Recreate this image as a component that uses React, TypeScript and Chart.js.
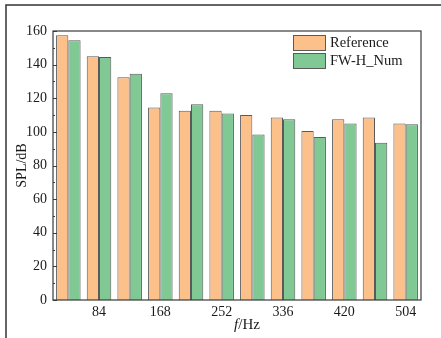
import { useEffect, useRef } from 'react';
import { Chart, registerables } from 'chart.js';

Chart.register(...registerables);

// Frequency bins (Hz) and sound pressure levels (dB)
const frequencies = ['42', '84', '126', '168', '210', '252', '294', '336', '378', '420', '462', '504'];
const referenceSPL = [157.5, 145, 132.5, 114.5, 112.5, 112.5, 110, 108.5, 100.5, 107.5, 108.5, 105];
const fwhNumSPL = [154.5, 144.5, 134.5, 123, 116.5, 111, 98.5, 107.5, 97, 105, 93.5, 104.5];
const seriesNames = ['Reference', 'FW-H_Num'];

const Y_MIN = 0;
const Y_MAX = 160;
const Y_STEP = 20;
const Y_MINOR_STEP = 10;

const SERIF = "'Liberation Serif', 'Times New Roman', serif";
const INK = '#1a1a1a';
const ORANGE = '#fcc08b';
const GREEN = '#80c994';
const EDGE = '#5a5a5a';

// Page frame, plot box, inward ticks, legend and axis titles
const decorations = {
  id: 'decorations',
  beforeDraw(chart: any) {
    const { ctx } = chart;
    ctx.save();
    ctx.fillStyle = '#ffffff';
    ctx.fillRect(0, 0, chart.width, chart.height);
    ctx.strokeStyle = '#333333';
    ctx.lineWidth = 1.5;
    ctx.beginPath();
    ctx.moveTo(chart.width, 5);
    ctx.lineTo(6, 5);
    ctx.lineTo(6, chart.height);
    ctx.stroke();
    ctx.restore();
  },
  afterDatasetsDraw(chart: any) {
    const { ctx, chartArea: a } = chart;
    const y = chart.scales.y;
    ctx.save();
    ctx.strokeStyle = '#3a3a3a';
    ctx.lineWidth = 1.2;
    ctx.strokeRect(a.left, a.top, a.right - a.left, a.bottom - a.top);

    // inward major/minor ticks on the value axis
    ctx.lineWidth = 1;
    ctx.beginPath();
    for (let v = Y_MIN; v <= Y_MAX; v += Y_MINOR_STEP) {
      const py = Math.round(y.getPixelForValue(v)) + 0.5;
      const len = v % Y_STEP === 0 ? 4 : 2;
      ctx.moveTo(a.left, py);
      ctx.lineTo(a.left + len, py);
    }
    ctx.stroke();

    // legend
    const boxX = 293;
    const boxW = 33;
    const boxH = 16;
    const rows = [35, 53];
    ctx.font = `14.5px ${SERIF}`;
    ctx.textBaseline = 'middle';
    ctx.textAlign = 'left';
    chart.data.datasets.forEach((ds: any, i: number) => {
      const top = rows[i];
      ctx.fillStyle = ds.backgroundColor;
      ctx.fillRect(boxX, top, boxW, boxH);
      ctx.strokeStyle = EDGE;
      ctx.lineWidth = 1;
      ctx.strokeRect(boxX + 0.5, top + 0.5, boxW - 1, boxH - 1);
      ctx.fillStyle = INK;
      ctx.fillText(ds.label, 330, top + boxH / 2 + 0.5);
    });

    // y-axis title
    ctx.save();
    ctx.translate(22, (a.top + a.bottom) / 2);
    ctx.rotate(-Math.PI / 2);
    ctx.textAlign = 'center';
    ctx.font = `14px ${SERIF}`;
    ctx.fillText('SPL/dB', 0, 0);
    ctx.restore();

    // x-axis title: italic f followed by /Hz
    const italic = `italic 15px ${SERIF}`;
    const upright = `15px ${SERIF}`;
    ctx.font = italic;
    const wf = ctx.measureText('f').width;
    ctx.font = upright;
    const wr = ctx.measureText('/Hz').width;
    const cx = 247;
    const start = cx - (wf + wr) / 2;
    ctx.textAlign = 'left';
    ctx.font = italic;
    ctx.fillText('f', start, 325);
    ctx.font = upright;
    ctx.fillText('/Hz', start + wf, 325);
    ctx.restore();
  },
};

export default function App() {
  const canvasRef = useRef<HTMLCanvasElement | null>(null);

  useEffect(() => {
    if (!canvasRef.current) return;
    const chart = new Chart(canvasRef.current, {
      type: 'bar',
      data: {
        labels: frequencies,
        datasets: [
          {
            label: seriesNames[0],
            data: referenceSPL,
            backgroundColor: ORANGE,
            borderColor: EDGE,
            borderWidth: 1,
            categoryPercentage: 0.8,
            barPercentage: 1.0,
          },
          {
            label: seriesNames[1],
            data: fwhNumSPL,
            backgroundColor: GREEN,
            borderColor: EDGE,
            borderWidth: 1,
            categoryPercentage: 0.8,
            barPercentage: 1.0,
          },
        ],
      },
      options: {
        responsive: false,
        animation: false,
        devicePixelRatio: 1,
        layout: { padding: { left: 0, right: 20, top: 31, bottom: 0 } },
        plugins: {
          legend: { display: false },
          tooltip: { enabled: false },
          title: { display: false },
        },
        scales: {
          x: {
            grid: { display: false, drawTicks: false },
            border: { display: false },
            ticks: {
              autoSkip: false,
              maxRotation: 0,
              padding: 4,
              color: INK,
              font: { family: SERIF, size: 14 },
              callback: (_v: any, i: number) => (i % 2 === 1 ? frequencies[i] : ''),
            },
            afterFit: (s: any) => {
              s.height = 38;
            },
          },
          y: {
            min: Y_MIN,
            max: Y_MAX,
            grid: { display: false, drawTicks: false },
            border: { display: false },
            ticks: {
              stepSize: Y_STEP,
              padding: 6,
              color: INK,
              font: { family: SERIF, size: 14 },
            },
            afterFit: (s: any) => {
              s.width = 53;
            },
          },
        },
      },
      plugins: [decorations],
    });
    return () => chart.destroy();
  }, []);

  return (
    <div style={{ position: 'fixed', left: 0, top: 0, width: 441, height: 338, background: '#fff' }}>
      <canvas ref={canvasRef} width={441} height={338} style={{ display: 'block' }} />
    </div>
  );
}
